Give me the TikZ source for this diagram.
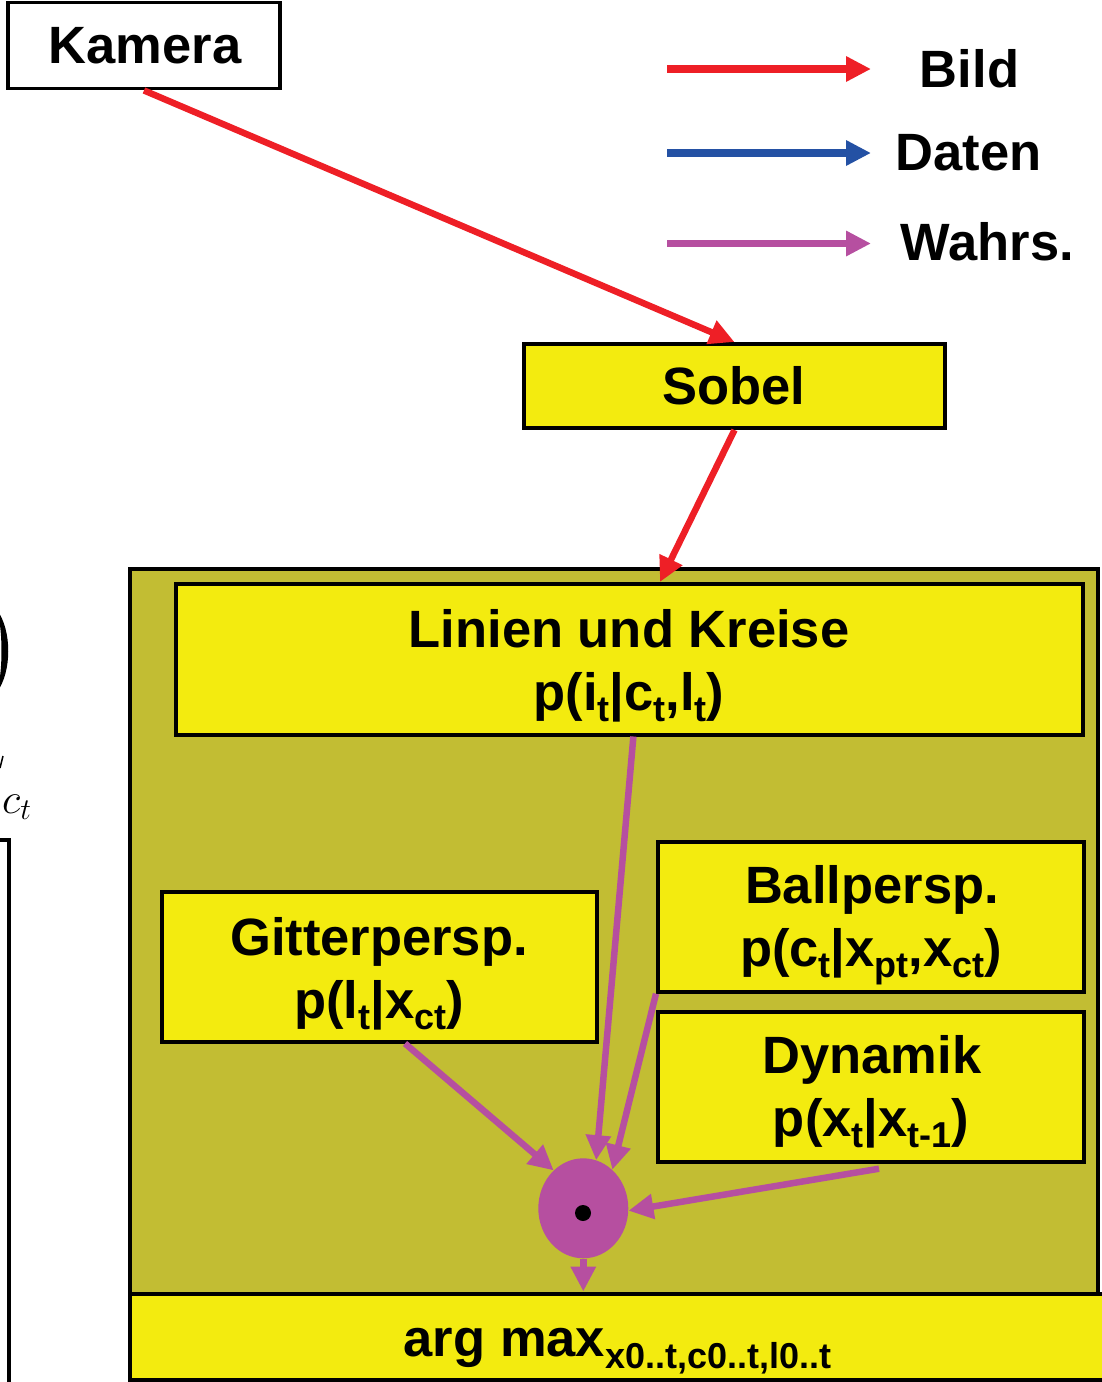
\RequirePackage{fix-cm}
\documentclass[tikz,border=0pt]{standalone}
\usepackage{fontspec}
\setmainfont{Liberation Sans}
\usetikzlibrary{arrows.meta,shapes.geometric,calc}
\definecolor{cyel}{HTML}{F3EB0F}
\definecolor{colive}{HTML}{C2BD33}
\definecolor{cred}{HTML}{EE1F26}
\definecolor{cblue}{HTML}{2451A4}
\definecolor{cpurp}{HTML}{B64FA0}
\newcommand{\sbs}[1]{\raisebox{-0.22em}{\fontsize{36}{36}\selectfont #1}}
\tikzset{
  box/.style={draw=black, line width=4pt, fill=cyel, inner sep=0pt},
  txt/.style={font=\fontsize{52.5}{63}\selectfont\bfseries, inner sep=0pt, anchor=base},
  arrbase/.style={line width=6.5pt, -{Triangle[length=25pt,width=24pt]}},
  redarr/.style={arrbase, draw=cred},
  bluearr/.style={arrbase, draw=cblue},
  purparr/.style={arrbase, draw=cpurp},
}
\begin{document}
\begin{tikzpicture}[x=1pt,y=-1pt]
\useasboundingbox (0,0) rectangle (1102,1382);
% left fragments
\fill (-3,610) .. controls (12,630) and (12,672) .. (-3,692) .. controls (3,672) and (3,630) .. (-3,610) -- cycle;
\draw[line width=1.5pt] (0,768) -- (3,756);
\node[font=\fontsize{43}{43}\selectfont, inner sep=0pt, anchor=base west] (ct) at (2,813) {$c_t$};
\draw[line width=4pt] (-3,840) -- (9,840) -- (9,1390);
% boxes
\node[box, fill=white, line width=3.5pt, minimum width=272pt, minimum height=86pt] (kam) at (144,45.7) {};
\node[box, minimum width=421pt, minimum height=84pt] (sob) at (734.5,386) {};
\node[draw=black, line width=4pt, fill=colive, inner sep=0pt, minimum width=968pt, minimum height=724.5pt] (frame) at (614,931.25) {};
\node[box, minimum width=907pt, minimum height=150.5pt] (lin) at (629.4,659.25) {};
\node[box, minimum width=435pt, minimum height=150pt] (git) at (379,966.5) {};
\node[box, minimum width=426pt, minimum height=150pt] (ball) at (871,916.7) {};
\node[box, minimum width=426pt, minimum height=150pt] (dyn) at (871,1086.7) {};
\node[box, minimum width=980pt, minimum height=86pt] (arg) at (620,1336.5) {};
\node[ellipse, fill=cpurp, inner sep=0pt, minimum width=90pt, minimum height=100pt] (circ) at (583.3,1208.3) {};
\node[circle, fill=black, inner sep=0pt, minimum size=16pt] (dot) at (583,1213) {};
% texts
\node[txt] (tkam) at (145,63) {Kamera};
\node[txt] (tsob) at (734,404) {Sobel};
\node[txt] (tbild) at (969.5,87) {Bild};
\node[txt] (tdaten) at (968.5,170) {Daten};
\node[txt] (twahr) at (987.5,260) {Wahrs.};
\node[txt] (tlin1) at (629,647) {Linien und Kreise};
\node[txt] (tlin2) at (629,710) {p(i\sbs{t}|c\sbs{t},l\sbs{t})};
\node[txt] (tgit1) at (379,955) {Gitterpersp.};
\node[txt] (tgit2) at (379,1018) {p(l\sbs{t}|x\sbs{ct})};
\node[txt] (tball1) at (872,903) {Ballpersp.};
\node[txt] (tball2) at (871,966) {p(c\sbs{t}|x\sbs{pt},x\sbs{ct})};
\node[txt] (tdyn1) at (872,1073) {Dynamik};
\node[txt] (tdyn2) at (871,1136) {p(x\sbs{t}|x\sbs{t-1})};
\node[txt] (targ) at (617.5,1356.5) {arg max\sbs{x0..t,c0..t,l0..t}};
% connectors
\draw[redarr] (kam.south) -- (sob.north);
\draw[redarr] (sob.south) -- ($(lin.north)+(30.6,0)$);
\draw[purparr] ($(lin.south)+(4,0)$) -- (circ.75);
\draw[purparr] (ball.south west) -- (circ.53);
\draw[purparr] ($(git.south)+(26,0)$) -- (circ.128);
\draw[purparr] ($(dyn.south)+(8,5)$) -- (circ.-3);
\draw[purparr] (circ.south) -- (circ.south |- arg.north);
% legend
\coordinate (l1a) at (667,69);
\coordinate (l1b) at (871,69);
\coordinate (l2a) at (667,153);
\coordinate (l2b) at (871,153);
\coordinate (l3a) at (667,243.5);
\coordinate (l3b) at (871,243.5);
\draw[redarr, line width=7.5pt] (l1a) -- (l1b);
\draw[bluearr, line width=7.5pt] (l2a) -- (l2b);
\draw[purparr, line width=7.5pt] (l3a) -- (l3b);
\end{tikzpicture}
\end{document}
